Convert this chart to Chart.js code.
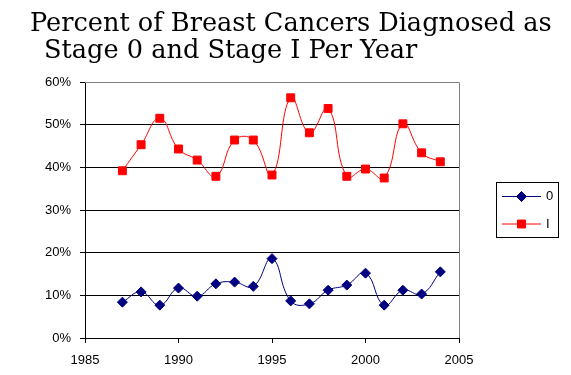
<!DOCTYPE html>
<html>
<head>
<meta charset="utf-8">
<script src="https://cdn.jsdelivr.net/npm/chart.js@4"></script>
<style>
html, body { margin: 0; padding: 0; background: #fff; }
</style>
</head>
<body>
<canvas id="myChart" width="571" height="375"></canvas>
<script>
// datos
const years = [1987, 1988, 1989, 1990, 1991, 1992, 1993, 1994, 1995, 1996, 1997, 1998, 1999, 2000, 2001, 2002, 2003, 2004];
const stage0 = [8.4, 10.8, 7.7, 11.7, 9.8, 12.7, 13.1, 12.1, 18.6, 8.7, 8.0, 11.2, 12.4, 15.2, 7.7, 11.2, 10.3, 15.5];
const stageI = [39.2, 45.3, 51.5, 44.3, 41.7, 37.9, 46.4, 46.4, 38.2, 56.3, 48.1, 53.8, 37.9, 39.6, 37.5, 50.2, 43.4, 41.3];
const seriesNames = ['0', 'I'];
const titleLines = ['Percent of Breast Cancers Diagnosed as', 'Stage 0 and Stage I Per Year'];

const toPoints = vals => years.map((y, i) => ({ x: y, y: vals[i] }));

// titulo en dos lineas
const titlePlugin = {
	id: 'titulo',
	afterDraw(chart) {
		const ctx = chart.ctx;
		ctx.save();
		ctx.fillStyle = '#000';
		ctx.font = '25.6px "DejaVu Serif"';
		ctx.textBaseline = 'alphabetic';
		ctx.fillText(titleLines[0], 30, 31);
		ctx.fillText(titleLines[1], 44, 58);
		ctx.restore();
	}
};

// borde gris arriba y a la derecha
const borderPlugin = {
	id: 'borde',
	beforeDatasetsDraw(chart) {
		const { ctx, chartArea } = chart;
		ctx.save();
		ctx.strokeStyle = '#808080';
		ctx.lineWidth = 1;
		ctx.beginPath();
		ctx.moveTo(chartArea.left, chartArea.top + 0.5);
		ctx.lineTo(chartArea.right + 0.5, chartArea.top + 0.5);
		ctx.lineTo(chartArea.right + 0.5, chartArea.bottom);
		ctx.stroke();
		ctx.restore();
	}
};

// leyenda con recuadro
const legendPlugin = {
	id: 'leyendaCaja',
	afterDraw(chart) {
		const ctx = chart.ctx;
		const box = { x: 496.5, y: 182.5, w: 62, h: 55 };
		ctx.save();
		ctx.strokeStyle = '#000';
		ctx.lineWidth = 1;
		ctx.strokeRect(box.x, box.y, box.w, box.h);
		ctx.font = '13px "Liberation Sans"';
		ctx.textBaseline = 'middle';
		chart.data.datasets.forEach((ds, i) => {
			const y = box.y + 14 + i * 27.5;
			ctx.strokeStyle = ds.borderColor;
			ctx.beginPath();
			ctx.moveTo(502, y);
			ctx.lineTo(541, y);
			ctx.stroke();
			Chart.helpers.drawPoint(ctx, {
				pointStyle: ds.pointStyle,
				radius: ds.pointRadius,
				borderWidth: 1,
				rotation: 0
			}, 521.5, y);
			ctx.fillStyle = ds.backgroundColor;
			ctx.strokeStyle = ds.borderColor;
			ctx.fill();
			ctx.fillStyle = '#000';
			ctx.fillText(ds.label, 546, y);
		});
		ctx.restore();
	}
};

const ctx = document.getElementById('myChart').getContext('2d');
const myChart = new Chart(ctx, {
	type: 'line',
	data: {
		datasets: [
			{
				label: seriesNames[0],
				data: toPoints(stage0),
				borderColor: '#000080',
				backgroundColor: '#000080',
				borderWidth: 1,
				pointStyle: 'rectRot',
				pointRadius: 5,
				pointBorderWidth: 1,
				tension: 0.45,
				fill: false
			},
			{
				label: seriesNames[1],
				data: toPoints(stageI),
				borderColor: '#ff0000',
				backgroundColor: '#ff0000',
				borderWidth: 1,
				pointStyle: 'rect',
				pointRadius: 5.6,
				pointBorderWidth: 1,
				tension: 0.45,
				fill: false
			}
		]
	},
	options: {
		responsive: false,
		animation: false,
		layout: { padding: { top: 82, right: 112, bottom: 0, left: 0 } },
		plugins: {
			legend: { display: false },
			title: { display: false },
			tooltip: { enabled: false }
		},
		scales: {
			x: {
				type: 'linear',
				min: 1985,
				max: 2005,
				afterFit: s => { s.height = 37; },
				ticks: {
					stepSize: 5,
					color: '#000',
					padding: 10,
					font: { family: 'Liberation Sans', size: 13 },
					callback: v => String(v)
				},
				grid: { drawOnChartArea: false, tickLength: 5, tickColor: '#000' },
				border: { color: '#000', width: 1 }
			},
			y: {
				min: 0,
				max: 60,
				afterFit: s => { s.width = 85; },
				ticks: {
					stepSize: 10,
					color: '#000',
					padding: 9,
					font: { family: 'Liberation Sans', size: 13 },
					callback: v => v + '%'
				},
				grid: {
					color: c => (c.tick && c.tick.value === 60 ? '#808080' : '#000'),
					tickColor: '#000',
					tickLength: 5
				},
				border: { color: '#000', width: 1 }
			}
		}
	},
	plugins: [borderPlugin, titlePlugin, legendPlugin]
});
</script>
</body>
</html>
